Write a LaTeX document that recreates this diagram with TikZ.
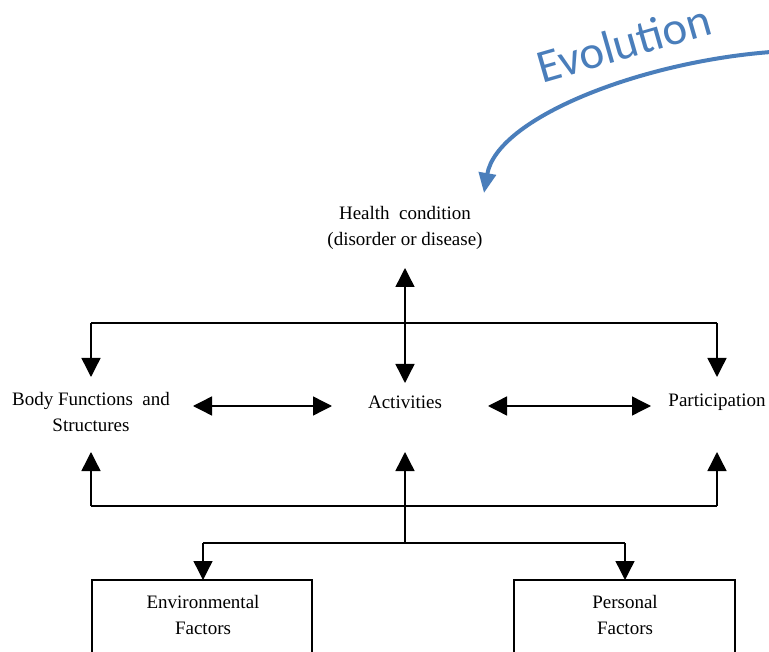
\documentclass[tikz,border=0pt]{standalone}
\usepackage{fontspec}
\setmainfont{Liberation Serif}
\newfontfamily\evofont{Carlito}
\usetikzlibrary{arrows.meta}
\definecolor{evoblue}{RGB}{74,126,187}
\tikzset{
  lbl/.style={font=\fontsize{19}{26.5}\selectfont, align=center, inner sep=1pt},
  link/.style={line width=1.4pt, -{Triangle[length=19pt,width=19pt]}},
  dlink/.style={line width=1.4pt, {Triangle[length=19pt,width=19pt]}-{Triangle[length=19pt,width=19pt]}},
  plain/.style={line width=1.4pt},
  factorbox/.style={draw, line width=1.4pt}
}
\begin{document}
\begin{tikzpicture}[x=1pt,y=-1pt]
\useasboundingbox (0,0) rectangle (769,652);

% labels
\node[lbl] (health) at (405,228) {Health\ \ condition\\(disorder or disease)};
\node[lbl] (body) at (91,412) {Body Functions\ \ and\\Structures};
\node[lbl] (act) at (405,402) {Activities};
\node[lbl] (part) at (717,402) {Participation};

% anchor points of the connector network
\coordinate (hTip) at (405,268);
\coordinate (aTop) at (405,383);
\coordinate (topL) at (91,323);
\coordinate (topR) at (717,323);
\coordinate (bodyTop) at (91,377);
\coordinate (partTop) at (717,377);
\coordinate (bodyBot) at (91,452);
\coordinate (actBot) at (405,452);
\coordinate (partBot) at (717,452);
\coordinate (botL) at (91,506);
\coordinate (botR) at (717,506);
\coordinate (fork) at (405,543);
\coordinate (forkL) at (203,543);
\coordinate (forkR) at (625,543);

% factor boxes (run off the lower edge)
\draw[factorbox] (92,670) -- (92,580) -- (312,580) -- (312,670);
\draw[factorbox] (514,670) -- (514,580) -- (735,580) -- (735,670);
\node[lbl] (env) at (203,615) {Environmental\\Factors};
\node[lbl] (pers) at (625,615) {Personal\\Factors};
\coordinate (envTop) at (203,580);
\coordinate (persTop) at (625,580);

% health condition <-> activities
\draw[dlink] (hTip) -- (aTop);
% upper branch to the side components
\draw[plain] (topL) -- (topR);
\draw[link] (topL) -- (bodyTop);
\draw[link] (topR) -- (partTop);

% horizontal interactions
\draw[dlink] (193,406) -- (332,406);
\draw[dlink] (488,406) -- (651,406);

% lower branch
\draw[link] (botL) -- (bodyBot);
\draw[link] (botR) -- (partBot);
\draw[plain] (botL) -- (botR);
\draw[link] (fork) -- (actBot);
\draw[plain] (forkL) -- (forkR);
\draw[link] (forkL) -- (envTop);
\draw[link] (forkR) -- (persTop);

% evolution arrow
\coordinate (evoStart) at (771,52);
\coordinate (evoEnd) at (484,193);
\draw[evoblue, line width=4pt, -{Triangle[length=20pt,width=17pt]}]
  (evoStart) .. controls (640,62) and (497,118) .. (evoEnd);
\node[text=evoblue, inner sep=0pt, font=\evofont\fontsize{47}{50}\selectfont, rotate=16] (evo) at (624,43) {Evolution};
\end{tikzpicture}
\end{document}
